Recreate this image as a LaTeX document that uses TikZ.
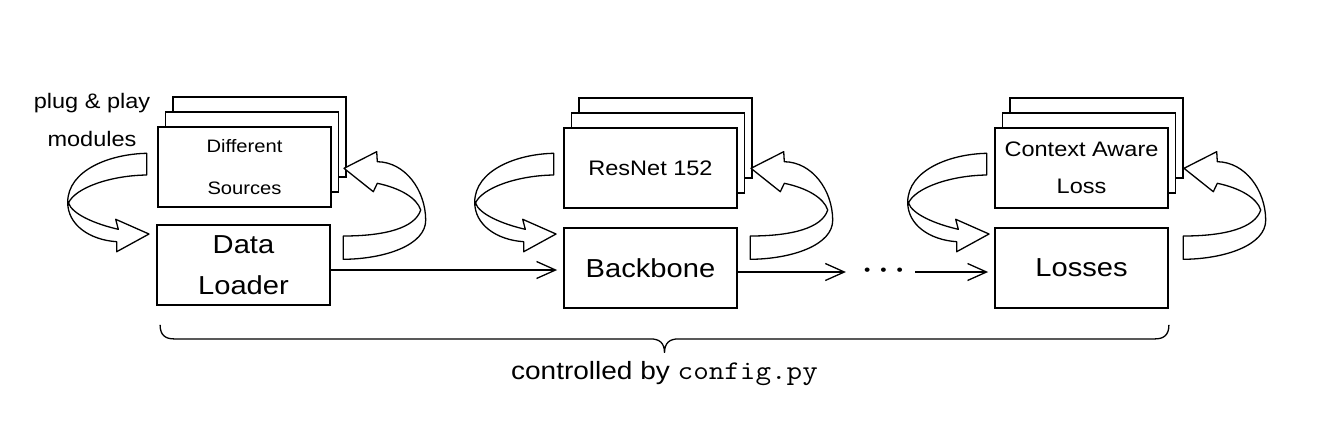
\documentclass[tikz,border=0pt]{standalone}
\usepackage{fontspec}
\setmainfont[FakeStretch=1.12]{Liberation Sans}
\usepackage{tikz}
\usetikzlibrary{arrows.meta, shadows, calc}

\tikzset{
  modbox/.style={draw, line width=1.8pt, fill=white, minimum width=173pt, minimum height=80pt, align=center, inner sep=0pt},
  plugbox/.style={modbox, double copy shadow={shadow xshift=7.5pt, shadow yshift=15pt}},
  swaploop/.style={draw, fill=white, line width=1.3pt, line join=round},
  flow/.style={-{Straight Barb[length=19pt, width=17pt]}, line width=1.3pt, shorten >=6pt},
}

\begin{document}
\begin{tikzpicture}[x=1pt, y=-1pt]
  \useasboundingbox (0,0) rectangle (1324,440);

  % plug & play modules
  \node[plugbox, font=\fontsize{18}{21.6}\selectfont] (src) at (244.5,167) {Different\\[21pt]Sources};
  \node[plugbox, font=\fontsize{21}{25.2}\selectfont] (res) at (650.5,168) {ResNet 152};
  \node[plugbox, font=\fontsize{21}{25.2}\selectfont] (cal) at (1081.5,168) {Context Aware\\[11.5pt]Loss};

  % pipeline
  \node[modbox, font=\fontsize{26}{31.2}\selectfont] (dl) at (243.5,265) {Data\\[10pt]Loader};
  \node[modbox, font=\fontsize{26}{31.2}\selectfont] (bb) at (650.5,268) {Backbone};
  \node[modbox, font=\fontsize{26}{31.2}\selectfont] (ls) at (1081.5,268) {Losses};
  \node[inner ysep=0pt, inner xsep=12pt, font=\fontsize{16}{18}\selectfont] (dots) at (883.5,272)
    {\textbullet\hspace{10pt}\textbullet\hspace{10pt}\textbullet};

  \node[inner sep=0pt, align=center, font=\fontsize{21}{25.2}\selectfont] (plug) at (92,120)
    {plug \& play\\[13pt]modules};

  % swap arrows
  \foreach \dx in {0,407,840}{
    \begin{scope}[xshift=\dx]
      \draw[swaploop] (146.7,153.3) .. controls (110,154) and (68,170) .. (67.7,202)
        .. controls (67.5,225) and (90,240) .. (116.7,241.7)
        -- (116.7,251.7) -- (149,234) -- (115.7,219.3) -- (118.3,229.3)
        .. controls (95,224) and (72,214) .. (68.5,203)
        .. controls (75,188) and (110,175.5) .. (146.7,175) -- cycle;
      \draw[swaploop] (343.3,259.3) .. controls (385,259) and (426,245) .. (425.7,220)
        .. controls (425.5,190) and (405,162) .. (377.3,161.7)
        -- (376.7,151.7) -- (344,168.3) -- (373.3,191.7) -- (377.3,183.3)
        .. controls (400,188) and (417,198) .. (420.7,210)
        .. controls (415,228) and (385,236) .. (343.3,236) -- cycle;
    \end{scope}
  }

  \draw[flow] ([yshift=-5pt]dl.east) -- ([yshift=-5pt]dl.east -| bb.west);
  \draw[flow] ([yshift=-4pt]bb.east) -- (dots.west);
  \draw[flow] (dots.east) -- ([yshift=-4pt]ls.west);

  % brace
  \coordinate (bl) at ([xshift=4pt, yshift=-19pt]dl.south west);
  \coordinate (br) at (bl -| ls.south east);
  \coordinate (tip) at ($(bl)!0.5!(br)+(0,28)$);
  \draw[line width=1.3pt] (bl) .. controls +(0,10) and +(-9,0) .. ++(14,14)
    -- ($(tip)+(-14,-14)$) .. controls +(9,0) and +(0,-10) .. (tip)
    .. controls +(0,-10) and +(-9,0) .. ++(14,-14)
    -- ($(br)+(-14,14)$) .. controls +(9,0) and +(0,10) .. (br);
  \node[anchor=north, inner sep=0pt, font=\fontsize{25}{30}\selectfont] (ctl) at ([yshift=-8pt]tip)
    {controlled by \scalebox{1.12}[1]{\fontsize{27}{30}\selectfont\ttfamily config.py}};
\end{tikzpicture}
\end{document}
